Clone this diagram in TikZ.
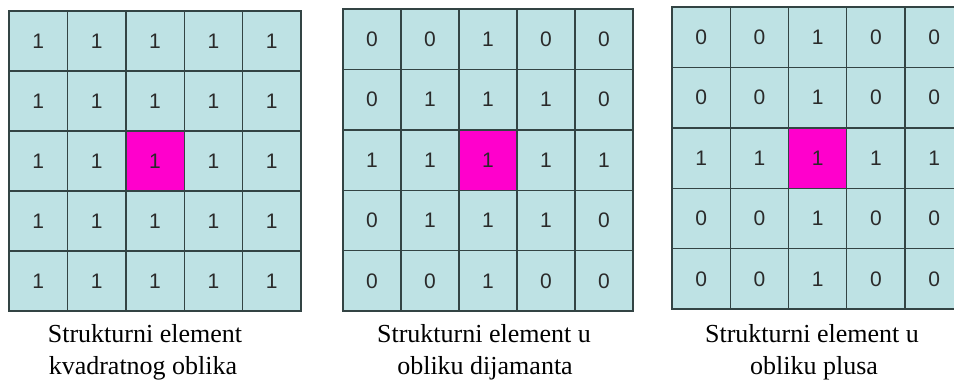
\documentclass[tikz,border=0pt]{standalone}
\usepackage{fontspec}
\setmainfont{Liberation Serif}
\newfontfamily\cellfont{Liberation Sans}
\definecolor{cellfill}{HTML}{BEE2E4}
\definecolor{hotmag}{HTML}{FF00CC}
\definecolor{gridline}{HTML}{334444}
\definecolor{digit}{HTML}{2A2A2A}
\newcommand\mkgrid[6]{%
  \foreach \v [count=\i from 0] in {#6} {
    \pgfmathtruncatemacro\rr{div(\i,5)}
    \pgfmathtruncatemacro\cc{mod(\i,5)}
    \ifnum\i=12 \def\cf{hotmag}\else\def\cf{cellfill}\fi
    \node[cell, fill=\cf, minimum width=#4pt, minimum height=#5pt]
      (#1-\rr-\cc) at ({#2+\cc*#4},{#3+\rr*#5}) {\v};
  }%
}
\begin{document}
\begin{tikzpicture}[x=1pt,y=-1pt,
  cell/.style={draw=gridline, line width=1.4pt, inner sep=0pt, outer sep=0pt,
    anchor=north west, text=digit, font=\fontsize{21}{21}\cellfont},
  caption/.style={anchor=base, inner sep=0pt, font=\fontsize{26}{26}\selectfont}]
\useasboundingbox (0,0) rectangle (954,381);
\clip (0,0) rectangle (954,381);
\fill[white] (0,0) rectangle (954,381);
\mkgrid{ga}{9}{11}{58.4}{60}{1,1,1,1,1, 1,1,1,1,1, 1,1,1,1,1, 1,1,1,1,1, 1,1,1,1,1}
\mkgrid{gb}{343}{9}{58}{60.4}{0,0,1,0,0, 0,1,1,1,0, 1,1,1,1,1, 0,1,1,1,0, 0,0,1,0,0}
\mkgrid{gc}{672}{7}{58.25}{60.4}{0,0,1,0,0, 0,0,1,0,0, 1,1,1,1,1, 0,0,1,0,0, 0,0,1,0,0}
\node[caption] (ca1) at (145,342) {Strukturni element};
\node[caption] (ca2) at (143,374) {kvadratnog oblika};
\node[caption] (cb1) at (484,342) {Strukturni element u};
\node[caption] (cb2) at (485,374) {obliku dijamanta};
\node[caption] (cc1) at (812,342) {Strukturni element u};
\node[caption] (cc2) at (814,374) {obliku plusa};
\end{tikzpicture}
\end{document}
